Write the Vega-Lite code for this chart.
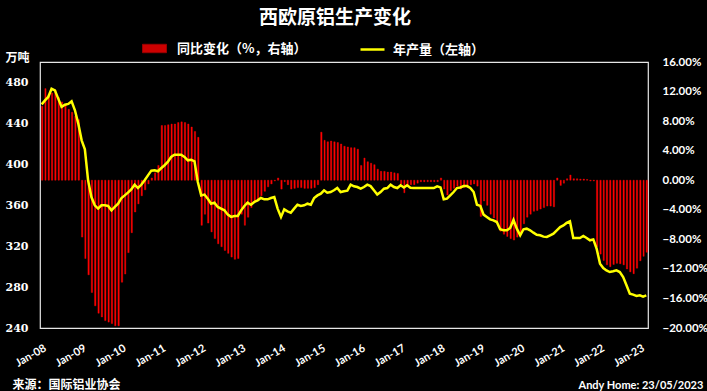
{
"$schema": "https://vega.github.io/schema/vega-lite/v6.json",
"width": 608, "height": 266,
"autosize": {"type": "none"},
"padding": {"left": 40, "top": 62, "right": 59, "bottom": 63},
"background": "#000000",
"config": {"view": {"stroke": "#e6e6e6", "strokeWidth": 1.2}, "axis": {"grid": false, "ticks": false, "domain": false}},
"title": {"text": "西欧原铝生产变化", "color": "#ffffff", "font": "Noto Sans CJK SC", "fontSize": 19, "fontWeight": "bold", "anchor": "middle", "dx": -9, "offset": 8},
"data": {"values": [
{"d":"2008-01","p":10.0,"v":458.6},{"d":"2008-02","p":12.4,"v":462.5},{"d":"2008-03","p":11.6,"v":465.8},{"d":"2008-04","p":11.8,"v":473.9},{"d":"2008-05","p":12.2,"v":472.3},{"d":"2008-06","p":11.2,"v":464.2},{"d":"2008-07","p":10.6,"v":456.1},{"d":"2008-08","p":10.2,"v":458.3},{"d":"2008-09","p":9.6,"v":459.0},{"d":"2008-10","p":9.2,"v":461.5},{"d":"2008-11","p":8.7,"v":452.8},{"d":"2008-12","p":8.2,"v":439.8},
{"d":"2009-01","p":-7.7,"v":423.4},{"d":"2009-02","p":-10.6,"v":414.7},{"d":"2009-03","p":-12.8,"v":384.3},{"d":"2009-04","p":-15.2,"v":368.0},{"d":"2009-05","p":-17.0,"v":359.9},{"d":"2009-06","p":-18.0,"v":356.7},{"d":"2009-07","p":-18.5,"v":359.9},{"d":"2009-08","p":-19.0,"v":359.9},{"d":"2009-09","p":-19.2,"v":359.3},{"d":"2009-10","p":-19.4,"v":355.0},{"d":"2009-11","p":-19.7,"v":358.3},{"d":"2009-12","p":-19.7,"v":361.5},
{"d":"2010-01","p":-13.8,"v":367.1},{"d":"2010-02","p":-12.7,"v":369.6},{"d":"2010-03","p":-9.8,"v":372.3},{"d":"2010-04","p":-7.1,"v":375.5},{"d":"2010-05","p":-4.3,"v":380.1},{"d":"2010-06","p":-3.2,"v":376.8},{"d":"2010-07","p":-2.1,"v":380.0},{"d":"2010-08","p":-1.3,"v":384.4},{"d":"2010-09","p":-0.5,"v":389.2},{"d":"2010-10","p":0.3,"v":393.8},{"d":"2010-11","p":1.0,"v":394.1},{"d":"2010-12","p":2.0,"v":393.2},
{"d":"2011-01","p":7.4,"v":396.4},{"d":"2011-02","p":7.4,"v":399.1},{"d":"2011-03","p":7.5,"v":402.3},{"d":"2011-04","p":7.6,"v":407.2},{"d":"2011-05","p":7.6,"v":409.4},{"d":"2011-06","p":7.8,"v":409.4},{"d":"2011-07","p":7.9,"v":409.4},{"d":"2011-08","p":7.8,"v":407.2},{"d":"2011-09","p":7.6,"v":403.9},{"d":"2011-10","p":7.2,"v":404.5},{"d":"2011-11","p":6.6,"v":402.9},{"d":"2011-12","p":5.8,"v":382.7},
{"d":"2012-01","p":-6.1,"v":369.6},{"d":"2012-02","p":-4.6,"v":370.4},{"d":"2012-03","p":-5.8,"v":366.4},{"d":"2012-04","p":-7.0,"v":361.5},{"d":"2012-05","p":-7.9,"v":362.5},{"d":"2012-06","p":-8.6,"v":358.3},{"d":"2012-07","p":-9.0,"v":356.7},{"d":"2012-08","p":-9.5,"v":355.0},{"d":"2012-09","p":-9.9,"v":350.8},{"d":"2012-10","p":-10.4,"v":348.6},{"d":"2012-11","p":-10.7,"v":349.5},{"d":"2012-12","p":-10.6,"v":349.5},
{"d":"2013-01","p":-4.6,"v":355.0},{"d":"2013-02","p":-6.1,"v":359.3},{"d":"2013-03","p":-5.0,"v":362.5},{"d":"2013-04","p":-3.7,"v":360.5},{"d":"2013-05","p":-3.0,"v":363.2},{"d":"2013-06","p":-2.8,"v":364.8},{"d":"2013-07","p":-2.1,"v":367.1},{"d":"2013-08","p":-1.5,"v":365.8},{"d":"2013-09","p":-0.9,"v":365.8},{"d":"2013-10","p":-0.5,"v":367.1},{"d":"2013-11","p":-0.1,"v":368.0},{"d":"2013-12","p":0.3,"v":356.7},
{"d":"2014-01","p":-1.2,"v":348.6},{"d":"2014-02","p":-0.2,"v":356.0},{"d":"2014-03","p":-0.6,"v":354.0},{"d":"2014-04","p":-1.2,"v":352.7},{"d":"2014-05","p":-1.1,"v":356.7},{"d":"2014-06","p":-1.0,"v":360.5},{"d":"2014-07","p":-1.0,"v":359.3},{"d":"2014-08","p":-1.1,"v":359.9},{"d":"2014-09","p":-1.1,"v":361.5},{"d":"2014-10","p":-1.1,"v":360.5},{"d":"2014-11","p":-1.0,"v":367.1},{"d":"2014-12","p":-0.6,"v":369.6},
{"d":"2015-01","p":6.5,"v":371.3},{"d":"2015-02","p":5.4,"v":374.6},{"d":"2015-03","p":5.2,"v":372.3},{"d":"2015-04","p":5.3,"v":372.9},{"d":"2015-05","p":5.2,"v":374.6},{"d":"2015-06","p":5.1,"v":376.8},{"d":"2015-07","p":4.9,"v":372.9},{"d":"2015-08","p":4.6,"v":373.6},{"d":"2015-09","p":4.5,"v":374.2},{"d":"2015-10","p":4.4,"v":380.1},{"d":"2015-11","p":4.4,"v":378.5},{"d":"2015-12","p":4.2,"v":377.8},
{"d":"2016-01","p":2.0,"v":376.2},{"d":"2016-02","p":3.0,"v":377.8},{"d":"2016-03","p":2.5,"v":380.1},{"d":"2016-04","p":2.3,"v":378.7},{"d":"2016-05","p":2.1,"v":374.6},{"d":"2016-06","p":1.5,"v":370.4},{"d":"2016-07","p":1.2,"v":372.9},{"d":"2016-08","p":1.2,"v":376.2},{"d":"2016-09","p":1.1,"v":376.8},{"d":"2016-10","p":1.1,"v":380.1},{"d":"2016-11","p":1.0,"v":377.8},{"d":"2016-12","p":0.9,"v":376.8},
{"d":"2017-01","p":-0.5,"v":379.5},{"d":"2017-02","p":-1.7,"v":377.4},{"d":"2017-03","p":-0.8,"v":379.5},{"d":"2017-04","p":-0.6,"v":377.1},{"d":"2017-05","p":-0.6,"v":376.8},{"d":"2017-06","p":-0.4,"v":376.8},{"d":"2017-07","p":-0.2,"v":376.8},{"d":"2017-08","p":-0.2,"v":376.8},{"d":"2017-09","p":-0.2,"v":376.8},{"d":"2017-10","p":-0.2,"v":376.8},{"d":"2017-11","p":-0.2,"v":376.8},{"d":"2017-12","p":-0.2,"v":378.5},
{"d":"2018-01","p":0.3,"v":377.4},{"d":"2018-02","p":-1.2,"v":365.8},{"d":"2018-03","p":-2.0,"v":366.4},{"d":"2018-04","p":-1.4,"v":369.6},{"d":"2018-05","p":-1.1,"v":372.9},{"d":"2018-06","p":-0.8,"v":376.8},{"d":"2018-07","p":-1.2,"v":377.4},{"d":"2018-08","p":-1.0,"v":378.7},{"d":"2018-09","p":-0.8,"v":378.7},{"d":"2018-10","p":-0.6,"v":376.8},{"d":"2018-11","p":-0.5,"v":372.9},{"d":"2018-12","p":-0.8,"v":360.5},
{"d":"2019-01","p":-4.9,"v":359.3},{"d":"2019-02","p":-2.8,"v":350.8},{"d":"2019-03","p":-3.4,"v":348.6},{"d":"2019-04","p":-4.6,"v":346.2},{"d":"2019-05","p":-5.1,"v":345.2},{"d":"2019-06","p":-5.6,"v":343.6},{"d":"2019-07","p":-6.9,"v":336.5},{"d":"2019-08","p":-7.3,"v":335.5},{"d":"2019-09","p":-7.6,"v":335.5},{"d":"2019-10","p":-7.9,"v":337.7},{"d":"2019-11","p":-8.1,"v":345.6},{"d":"2019-12","p":-7.7,"v":337.1},
{"d":"2020-01","p":-7.3,"v":330.6},{"d":"2020-02","p":-5.9,"v":336.5},{"d":"2020-03","p":-5.0,"v":337.1},{"d":"2020-04","p":-4.6,"v":335.5},{"d":"2020-05","p":-4.2,"v":333.2},{"d":"2020-06","p":-4.1,"v":331.2},{"d":"2020-07","p":-3.9,"v":330.6},{"d":"2020-08","p":-3.7,"v":329.3},{"d":"2020-09","p":-3.5,"v":329.0},{"d":"2020-10","p":-3.5,"v":330.6},{"d":"2020-11","p":-3.6,"v":332.2},{"d":"2020-12","p":0.3,"v":335.5},
{"d":"2021-01","p":-0.7,"v":338.7},{"d":"2021-02","p":-0.4,"v":340.3},{"d":"2021-03","p":0.2,"v":342.7},{"d":"2021-04","p":0.7,"v":344.3},{"d":"2021-05","p":0.2,"v":328.0},{"d":"2021-06","p":0.2,"v":328.0},{"d":"2021-07","p":0.15,"v":328.0},{"d":"2021-08","p":0.15,"v":329.9},{"d":"2021-09","p":0.1,"v":328.0},{"d":"2021-10","p":-0.1,"v":325.7},{"d":"2021-11","p":-0.1,"v":326.6},{"d":"2021-12","p":-9.0,"v":317.5},
{"d":"2022-01","p":-10.0,"v":302.9},{"d":"2022-02","p":-10.85,"v":298.6},{"d":"2022-03","p":-11.45,"v":296.3},{"d":"2022-04","p":-11.7,"v":294.7},{"d":"2022-05","p":-11.4,"v":295.4},{"d":"2022-06","p":-11.25,"v":296.3},{"d":"2022-07","p":-11.3,"v":294.7},{"d":"2022-08","p":-11.45,"v":289.8},{"d":"2022-09","p":-12.0,"v":281.7},{"d":"2022-10","p":-12.4,"v":273.6},{"d":"2022-11","p":-12.65,"v":272.6},{"d":"2022-12","p":-11.9,"v":271.3},
{"d":"2023-01","p":-10.9,"v":271.9},{"d":"2023-02","p":-10.3,"v":270.7},{"d":"2023-03","p":-9.75,"v":271.9}
]},
"layer": [
{"mark": {"type": "bar", "color": "#ff0000", "stroke": "#ff0000", "strokeWidth": 0.4, "width": {"band": 0.7}},
 "encoding": {
  "x": {"field": "d", "type": "temporal", "timeUnit": "utcyearmonth",
        "scale": {"type": "utc", "domain": [{"year": 2008, "month": 1, "date": 1, "utc": true}, {"year": 2023, "month": 4, "date": 1, "utc": true}], "nice": false},
        "axis": {"values": [{"year":2008,"month":1,"date":1,"utc":true},{"year":2009,"month":1,"date":1,"utc":true},{"year":2010,"month":1,"date":1,"utc":true},{"year":2011,"month":1,"date":1,"utc":true},{"year":2012,"month":1,"date":1,"utc":true},{"year":2013,"month":1,"date":1,"utc":true},{"year":2014,"month":1,"date":1,"utc":true},{"year":2015,"month":1,"date":1,"utc":true},{"year":2016,"month":1,"date":1,"utc":true},{"year":2017,"month":1,"date":1,"utc":true},{"year":2018,"month":1,"date":1,"utc":true},{"year":2019,"month":1,"date":1,"utc":true},{"year":2020,"month":1,"date":1,"utc":true},{"year":2021,"month":1,"date":1,"utc":true},{"year":2022,"month":1,"date":1,"utc":true},{"year":2023,"month":1,"date":1,"utc":true}],
                 "format": "%b-%y", "labelAngle": -30, "labelColor": "#ffffff", "labelFont": "Lato", "labelFontWeight": "bold", "labelFontSize": 11, "labelPadding": 14, "labelOffset": 2, "labelFlush": false, "labelOverlap": false,
                 "title": "来源：国际铝业协会", "titleColor": "#ffffff", "titleFont": "Noto Sans CJK SC", "titleFontSize": 12, "titleFontWeight": "bold", "titleX": -28, "titleY": 60, "titleAlign": "left", "titleBaseline": "alphabetic"}},
  "y": {"field": "p", "type": "quantitative", "scale": {"domain": [-20, 16], "nice": false, "zero": false},
        "axis": {"orient": "right", "values": [-20, -16, -12, -8, -4, 0, 4, 8, 12, 16], "labelExpr": "format(datum.value, '.2f') + '%'", "labelColor": "#ffffff", "labelFont": "Lato", "labelFontWeight": "bold", "labelFontSize": 11.5, "labelPadding": 14,
                 "title": "Andy Home: 23/05/2023", "titleColor": "#ffffff", "titleFont": "Lato", "titleFontSize": 11, "titleFontWeight": "bold", "titleAngle": 0, "titleX": -70, "titleY": 326, "titleAlign": "left", "titleBaseline": "alphabetic"}},
  "fill": {"datum": "同比变化（%，右轴）", "type": "nominal", "scale": {"range": ["#ff0000"]},
           "legend": {"orient": "none", "legendX": 102, "legendY": -26, "title": null, "labelColor": "#ffffff", "labelFont": "Noto Sans CJK SC", "labelFontSize": 13, "labelFontWeight": "bold", "symbolType": "M-1,-0.35H1V0.35H-1Z", "symbolSize": 576, "symbolStrokeColor": "#c00000", "symbolStrokeWidth": 1, "symbolOpacity": 0.8, "labelOffset": 10}}
 }},
{"mark": {"type": "line", "color": "#ffff00", "strokeWidth": 2.5},
 "encoding": {
  "x": {"field": "d", "type": "temporal", "timeUnit": "utcyearmonth", "bandPosition": 0.5},
  "y": {"field": "v", "type": "quantitative", "scale": {"domain": [240, 500], "nice": false, "zero": false},
        "axis": {"orient": "left", "values": [240, 280, 320, 360, 400, 440, 480], "labelColor": "#ffffff", "labelFont": "DejaVu Serif", "labelFontWeight": "bold", "labelFontSize": 11, "labelPadding": 12,
                 "title": "万吨", "titleColor": "#ffffff", "titleFont": "Noto Sans CJK SC", "titleFontSize": 12, "titleFontWeight": "bold", "titleAngle": 0, "titleX": -35, "titleY": -1, "titleAlign": "left", "titleBaseline": "alphabetic"}},
  "stroke": {"datum": "年产量（左轴）", "type": "nominal", "scale": {"range": ["#ffff00"]},
             "legend": {"orient": "none", "legendX": 319, "legendY": -26, "title": null, "labelColor": "#ffffff", "labelFont": "Noto Sans CJK SC", "labelFontSize": 13, "labelFontWeight": "bold", "symbolType": "stroke", "symbolSize": 576, "symbolStrokeWidth": 2.5, "labelOffset": 7}}
 }}
],
"resolve": {"scale": {"y": "independent", "fill": "independent", "stroke": "independent"}}
}
